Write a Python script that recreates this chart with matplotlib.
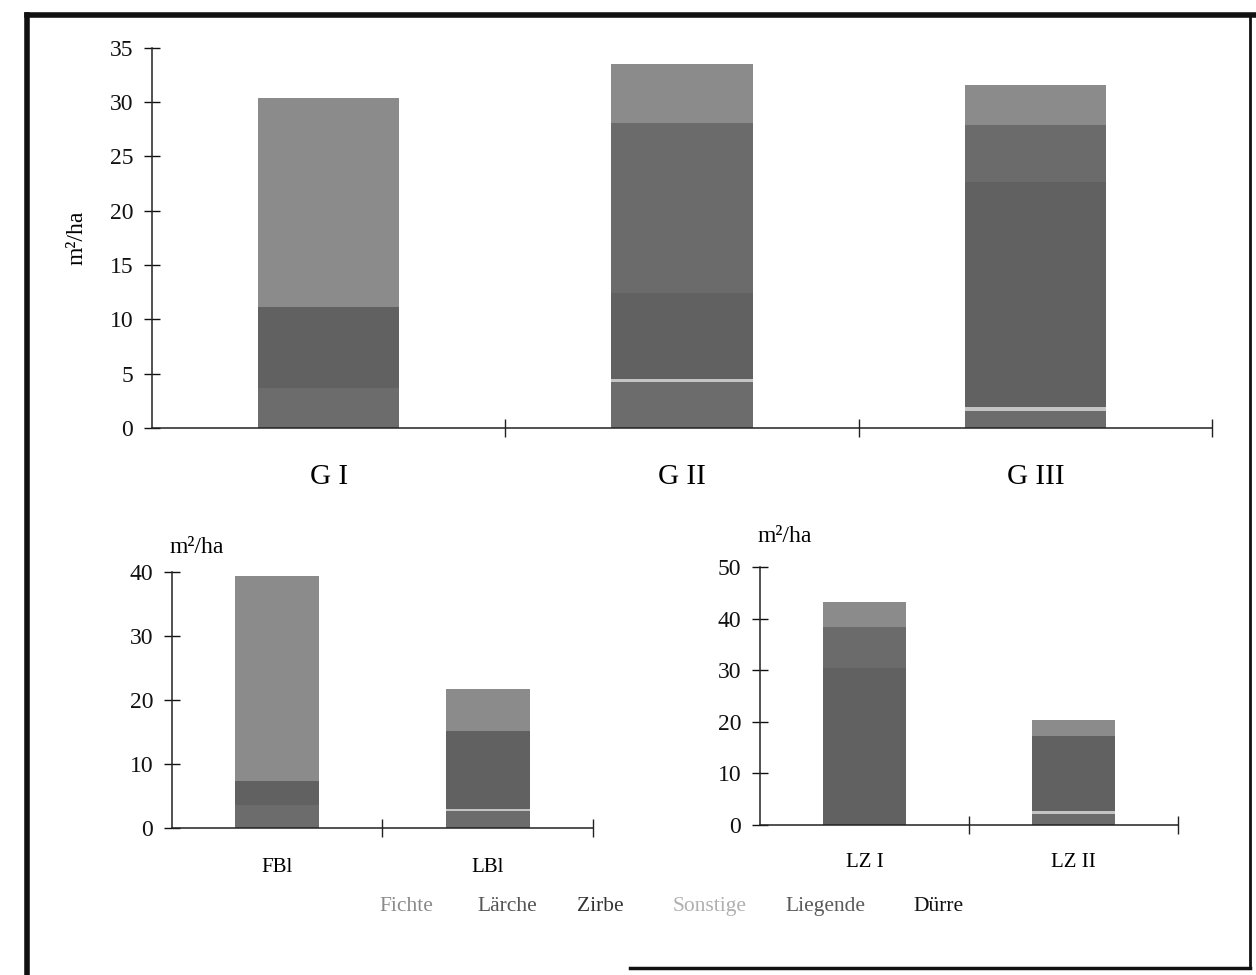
import matplotlib
matplotlib.use("Agg")
import matplotlib.pyplot as plt
from matplotlib.lines import Line2D
import numpy as np

plt.rcParams["font.family"] = ["Liberation Serif", "DejaVu Serif"]

# ----------------------- data (m²/ha) -----------------------
top_stands = ["G I", "G II", "G III"]
left_stands = ["FBl", "LBl"]
right_stands = ["LZ I", "LZ II"]

# stacked bottom -> top
duerre = {"G I": 3.7, "G II": 4.2, "G III": 1.6, "FBl": 3.5, "LBl": 2.6, "LZ I": 0.0, "LZ II": 2.2}
liegende = {"G I": 0.0, "G II": 0.0, "G III": 0.0, "FBl": 0.0, "LBl": 0.0, "LZ I": 0.0, "LZ II": 0.0}
sonstige = {"G I": 0.0, "G II": 0.35, "G III": 0.3, "FBl": 0.0, "LBl": 0.35, "LZ I": 0.0, "LZ II": 0.4}
zirbe = {"G I": 7.4, "G II": 7.9, "G III": 20.7, "FBl": 3.9, "LBl": 12.2, "LZ I": 30.4, "LZ II": 14.7}
laerche = {"G I": 0.0, "G II": 15.6, "G III": 5.3, "FBl": 0.0, "LBl": 0.0, "LZ I": 8.0, "LZ II": 0.0}
fichte = {"G I": 19.3, "G II": 5.5, "G III": 3.7, "FBl": 32.1, "LBl": 6.6, "LZ I": 4.8, "LZ II": 3.1}

series = [
    ("Dürre", duerre, "#6c6c6c"),
    ("Liegende", liegende, "#7a7a7a"),
    ("Sonstige", sonstige, "#c4c4c4"),
    ("Zirbe", zirbe, "#616161"),
    ("Lärche", laerche, "#6b6b6b"),
    ("Fichte", fichte, "#8b8b8b"),
]

legend_names = ["Fichte", "Lärche", "Zirbe", "Sonstige", "Liegende", "Dürre"]
legend_colors = ["#8a8a8a", "#555555", "#333333", "#b0b0b0", "#5a5a5a", "#111111"]


# ----------------------- helpers -----------------------
def draw_panel(ax, stands, ymax, ystep, label_size, label_pad):
    x = np.arange(len(stands))
    bottom = np.zeros(len(stands))
    for name, vals, color in series:
        h = np.array([vals[s] for s in stands])
        ax.bar(x, h, width=0.4, bottom=bottom, color=color, edgecolor="none")
        bottom += h
    ax.set_xlim(-0.5, len(stands) - 0.5)
    ax.set_ylim(0, ymax)
    ax.set_yticks(np.arange(0, ymax + 0.1, ystep))
    ax.spines["top"].set_visible(False)
    ax.spines["right"].set_visible(False)
    for sp in ("left", "bottom"):
        ax.spines[sp].set_color("#222222")
        ax.spines[sp].set_linewidth(1.1)
    ax.spines["left"].set_bounds(0, ymax)
    ax.tick_params(axis="y", direction="inout", length=11, width=1.0,
                   labelsize=17, pad=8, colors="#111111")
    ax.set_xticks(x)
    ax.set_xticklabels(stands, fontsize=label_size)
    ax.tick_params(axis="x", which="major", length=0, pad=label_pad)
    ax.set_xticks(np.arange(0.5, len(stands)), minor=True)
    ax.tick_params(axis="x", which="minor", direction="inout", length=13, width=1.0,
                   colors="#222222")
    ax.set_facecolor("none")


# ----------------------- figure -----------------------
fig = plt.figure(figsize=(12.56, 9.75), dpi=100)

ax_top = fig.add_axes([0.121, 0.561, 0.844, 0.390])
draw_panel(ax_top, top_stands, 35, 5, 21, 26)
ax_top.set_ylabel("m²/ha", fontsize=17, labelpad=16)

ax_l = fig.add_axes([0.137, 0.151, 0.335, 0.262])
draw_panel(ax_l, left_stands, 40, 10, 15, 22)

ax_r = fig.add_axes([0.605, 0.154, 0.333, 0.264])
draw_panel(ax_r, right_stands, 50, 10, 15, 20)

fig.text(0.135, 0.438, "m²/ha", fontsize=17, ha="left", va="center")
fig.text(0.603, 0.450, "m²/ha", fontsize=17, ha="left", va="center")

# coloured-text legend
legend_x = [406, 507, 600, 710, 825, 938]
for name, col, px in zip(legend_names, legend_colors, legend_x):
    fig.text(px / 1256, 1 - 911 / 975, name, fontsize=15.5, color=col,
             ha="center", va="baseline")

# scanned page frame
frame = [
    ([27, 27], [15, 975], 4),
    ([27, 1256], [15, 15], 4),
    ([1250, 1250], [15, 968], 2),
    ([630, 1250], [968, 968], 2.5),
]
for xs, ys, lw in frame:
    fig.add_artist(Line2D([v / 1256 for v in xs], [1 - v / 975 for v in ys],
                          color="#111111", linewidth=lw))

fig.savefig("out.png", dpi=100, facecolor="white")
